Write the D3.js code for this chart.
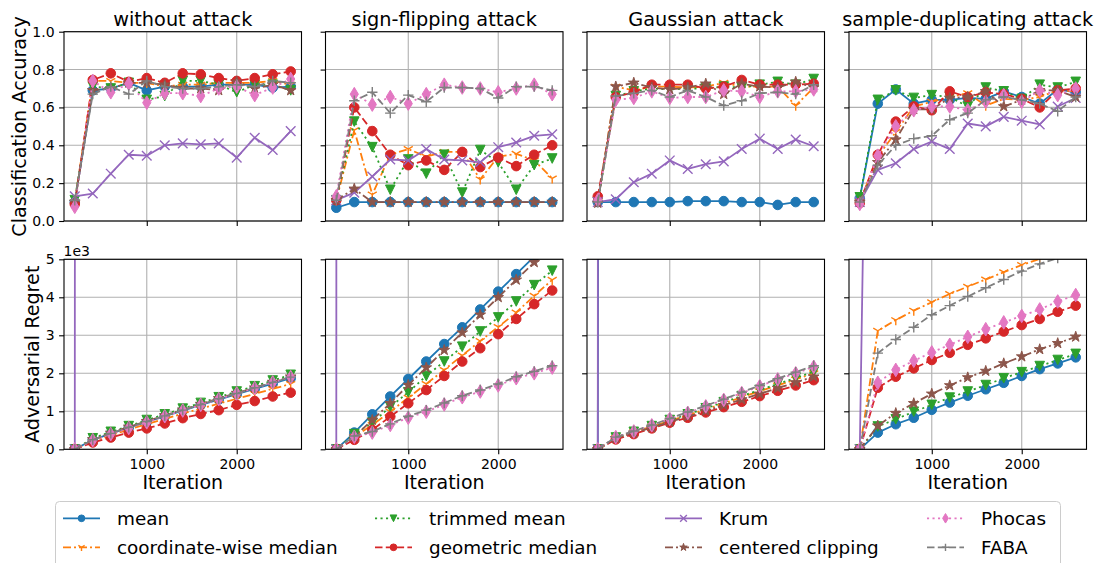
<!DOCTYPE html>
<html><head><meta charset="utf-8">
<script src="https://cdn.jsdelivr.net/npm/d3@7"></script>
<style>body{margin:0;background:#fff}svg{display:block}text{font-family:"DejaVu Sans",sans-serif;fill:#000}</style>
</head><body><svg id="chart" width="1097" height="563"></svg>
<script>
// ---------- data ----------
const iterations = [200, 400, 600, 800, 1000, 1200, 1400, 1600, 1800, 2000, 2200, 2400, 2600];
const methods = ["mean", "coordinate-wise median", "trimmed mean", "geometric median", "Krum", "centered clipping", "Phocas", "FABA"];
const attacks = ["without attack", "sign-flipping attack", "Gaussian attack", "sample-duplicating attack"];
const accTicks = [0, 0.2, 0.4, 0.6, 0.8, 1.0];
const regretTicks = [0, 1000, 2000, 3000, 4000, 5000];
const iterTicks = [1000, 2000];

// classification accuracy, one row per method (order of `methods`)
const accWithout = [
  [0.10, 0.69, 0.70, 0.73, 0.69, 0.71, 0.71, 0.71, 0.72, 0.72, 0.72, 0.705, 0.71],
  [0.10, 0.74, 0.74, 0.73, 0.73, 0.71, 0.72, 0.72, 0.73, 0.73, 0.73, 0.74, 0.72],
  [0.11, 0.71, 0.70, 0.73, 0.64, 0.66, 0.74, 0.74, 0.72, 0.68, 0.72, 0.72, 0.69],
  [0.09, 0.745, 0.78, 0.735, 0.755, 0.73, 0.78, 0.775, 0.755, 0.74, 0.755, 0.775, 0.79],
  [0.13, 0.145, 0.25, 0.35, 0.345, 0.40, 0.41, 0.405, 0.41, 0.335, 0.44, 0.375, 0.475],
  [0.10, 0.69, 0.70, 0.73, 0.73, 0.72, 0.70, 0.70, 0.69, 0.735, 0.70, 0.72, 0.69],
  [0.075, 0.74, 0.68, 0.725, 0.625, 0.675, 0.675, 0.66, 0.70, 0.71, 0.665, 0.705, 0.75],
  [0.11, 0.67, 0.71, 0.67, 0.74, 0.71, 0.70, 0.70, 0.71, 0.72, 0.71, 0.74, 0.73]
];
const accSignFlip = [
  [0.07, 0.10, 0.10, 0.10, 0.10, 0.10, 0.10, 0.10, 0.10, 0.10, 0.10, 0.10, 0.10],
  [0.11, 0.48, 0.14, 0.35, 0.38, 0.34, 0.365, 0.365, 0.22, 0.34, 0.355, 0.32, 0.225],
  [0.11, 0.525, 0.39, 0.165, 0.325, 0.25, 0.35, 0.15, 0.375, 0.31, 0.165, 0.295, 0.33],
  [0.11, 0.60, 0.475, 0.35, 0.295, 0.32, 0.27, 0.365, 0.285, 0.335, 0.29, 0.35, 0.40],
  [0.11, 0.15, 0.235, 0.325, 0.32, 0.38, 0.325, 0.32, 0.31, 0.39, 0.415, 0.45, 0.458],
  [0.11, 0.17, 0.10, 0.10, 0.10, 0.10, 0.10, 0.10, 0.10, 0.10, 0.10, 0.10, 0.10],
  [0.13, 0.67, 0.615, 0.655, 0.62, 0.67, 0.72, 0.705, 0.70, 0.68, 0.70, 0.72, 0.67],
  [0.11, 0.635, 0.68, 0.57, 0.665, 0.63, 0.705, 0.705, 0.70, 0.65, 0.71, 0.71, 0.69]
];
const accGaussian = [
  [0.10, 0.10, 0.10, 0.10, 0.10, 0.105, 0.105, 0.105, 0.10, 0.10, 0.085, 0.10, 0.10],
  [0.10, 0.71, 0.69, 0.71, 0.71, 0.705, 0.71, 0.73, 0.71, 0.71, 0.71, 0.61, 0.705],
  [0.10, 0.66, 0.685, 0.70, 0.695, 0.70, 0.70, 0.71, 0.705, 0.72, 0.735, 0.72, 0.75],
  [0.13, 0.655, 0.68, 0.72, 0.72, 0.72, 0.70, 0.71, 0.745, 0.72, 0.72, 0.72, 0.725],
  [0.10, 0.115, 0.205, 0.25, 0.32, 0.275, 0.30, 0.315, 0.38, 0.435, 0.38, 0.43, 0.395],
  [0.095, 0.71, 0.73, 0.705, 0.695, 0.705, 0.725, 0.67, 0.725, 0.71, 0.705, 0.735, 0.705],
  [0.11, 0.64, 0.65, 0.685, 0.65, 0.655, 0.655, 0.69, 0.685, 0.655, 0.685, 0.685, 0.695],
  [0.10, 0.66, 0.675, 0.69, 0.655, 0.69, 0.655, 0.61, 0.635, 0.675, 0.68, 0.67, 0.72]
];
const accSampleDup = [
  [0.12, 0.62, 0.695, 0.62, 0.64, 0.64, 0.65, 0.645, 0.685, 0.655, 0.62, 0.695, 0.68],
  [0.10, 0.34, 0.47, 0.605, 0.63, 0.655, 0.675, 0.61, 0.645, 0.64, 0.655, 0.69, 0.685],
  [0.125, 0.64, 0.69, 0.65, 0.665, 0.655, 0.605, 0.705, 0.685, 0.645, 0.72, 0.705, 0.735],
  [0.095, 0.35, 0.525, 0.605, 0.585, 0.685, 0.655, 0.68, 0.67, 0.645, 0.60, 0.69, 0.70],
  [0.10, 0.27, 0.305, 0.38, 0.42, 0.38, 0.515, 0.50, 0.55, 0.53, 0.51, 0.605, 0.65],
  [0.10, 0.31, 0.43, 0.59, 0.59, 0.65, 0.655, 0.685, 0.605, 0.64, 0.69, 0.69, 0.655],
  [0.09, 0.345, 0.50, 0.585, 0.605, 0.605, 0.585, 0.63, 0.665, 0.63, 0.69, 0.665, 0.70],
  [0.10, 0.295, 0.40, 0.435, 0.45, 0.535, 0.57, 0.64, 0.655, 0.64, 0.62, 0.58, 0.655]
];

// adversarial regret, one row per method
const regretWithout = [
  [0, 250, 410, 570, 720, 870, 1020, 1170, 1310, 1450, 1590, 1730, 1870],
  [0, 220, 370, 520, 660, 800, 940, 1070, 1200, 1330, 1460, 1590, 1720],
  [0, 290, 460, 610, 770, 920, 1070, 1220, 1370, 1520, 1660, 1810, 1960],
  [0, 180, 310, 440, 550, 680, 820, 930, 1030, 1170, 1270, 1390, 1490],
  [0, 1200000, 2300000, 3400000, 4500000, 5600000, 6700000, 7800000, 8900000, 9900000, 11000000, 12000000, 13000000],
  [0, 260, 430, 590, 740, 890, 1040, 1190, 1340, 1480, 1620, 1770, 1910],
  [0, 240, 400, 560, 710, 870, 1020, 1170, 1320, 1470, 1610, 1760, 1900],
  [0, 250, 420, 580, 730, 880, 1030, 1180, 1330, 1470, 1620, 1760, 1900]
];
const regretSignFlip = [
  [0, 440, 920, 1390, 1850, 2310, 2770, 3210, 3680, 4150, 4610, 5070, 5530],
  [0, 330, 640, 990, 1360, 1720, 2090, 2470, 2850, 3220, 3600, 4040, 4460],
  [0, 400, 700, 1120, 1500, 1930, 2310, 2700, 3100, 3470, 3890, 4320, 4700],
  [0, 250, 510, 860, 1210, 1560, 1930, 2310, 2660, 3030, 3430, 3820, 4180],
  [0, 1500000, 2900000, 4300000, 5700000, 7000000, 8400000, 9800000, 11000000, 12500000, 13900000, 15000000, 16500000],
  [0, 330, 770, 1210, 1690, 2150, 2610, 3070, 3540, 4000, 4460, 4920, 5380],
  [0, 330, 440, 640, 830, 990, 1180, 1370, 1520, 1680, 1870, 2000, 2150],
  [0, 350, 470, 670, 870, 1030, 1220, 1410, 1560, 1720, 1910, 2050, 2200]
];
const regretGaussian = [
  [0, 300000, 600000, 900000, 1200000, 1500000, 1800000, 2100000, 2400000, 2700000, 3000000, 3300000, 3600000],
  [0, 300, 450, 600, 750, 900, 1050, 1210, 1370, 1530, 1680, 1840, 2000],
  [0, 310, 460, 610, 770, 920, 1080, 1240, 1400, 1560, 1720, 1880, 2040],
  [0, 260, 400, 550, 700, 830, 970, 1110, 1250, 1400, 1540, 1680, 1820],
  [0, 1300000, 2500000, 3800000, 5000000, 6200000, 7400000, 8600000, 9800000, 11000000, 12000000, 13500000, 14600000],
  [0, 290, 430, 570, 720, 860, 1010, 1160, 1310, 1460, 1610, 1760, 1910],
  [0, 320, 470, 630, 800, 960, 1130, 1300, 1480, 1660, 1840, 2000, 2170],
  [0, 320, 480, 640, 810, 980, 1150, 1320, 1500, 1680, 1860, 2030, 2200]
];
const regretSampleDup = [
  [0, 440, 660, 830, 1040, 1230, 1410, 1580, 1750, 1930, 2110, 2260, 2420],
  [0, 3120, 3400, 3650, 3870, 4090, 4280, 4470, 4660, 4850, 5010, 5170, 5330],
  [0, 600, 790, 990, 1170, 1360, 1520, 1690, 1870, 2030, 2190, 2350, 2510],
  [0, 1620, 1910, 2130, 2350, 2540, 2750, 2920, 3100, 3270, 3430, 3620, 3780],
  [0, 30000, 58000, 85000, 110000, 140000, 165000, 190000, 220000, 245000, 270000, 300000, 325000],
  [0, 620, 950, 1210, 1460, 1680, 1890, 2060, 2260, 2440, 2630, 2790, 2960],
  [0, 1750, 2090, 2330, 2550, 2750, 2960, 3160, 3340, 3510, 3680, 3890, 4060],
  [0, 2530, 2890, 3210, 3540, 3780, 4020, 4250, 4470, 4690, 4880, 5030, 5200]
];

const accData = [accWithout, accSignFlip, accGaussian, accSampleDup];
const regretData = [regretWithout, regretSignFlip, regretGaussian, regretSampleDup];

// ---------- styles ----------
const colors = ["#1f77b4", "#ff7f0e", "#2ca02c", "#d62728", "#9467bd", "#8c564b", "#e377c2", "#7f7f7f"];
const markers = ["o", "1", "v", "o", "x", "*", "d", "+"];
const LW = 1.8;
const dashes = [null, [8, 3, 2, 3], [2.1, 3.4], [7.5, 3.3], null, [8, 3, 2, 3], [2.1, 3.4], [7.5, 3.3]];

function markerPath(type, k) {
  const s = 5.2 * k;
  switch (type) {
    case "o": { const r = 4.8 * k; return `M${r},0A${r},${r} 0 1,1 ${-r},0A${r},${r} 0 1,1 ${r},0Z`; }
    case "1": return `M0,0L0,${s}M0,0L${-0.866 * s},${-0.5 * s}M0,0L${0.866 * s},${-0.5 * s}`;
    case "v": { const t = 4.8 * k; return `M0,${t}L${-t},${-t}L${t},${-t}Z`; }
    case "x": { const t = 4.8 * k; return `M${-t},${-t}L${t},${t}M${-t},${t}L${t},${-t}`; }
    case "*": {
      const R = 5.6 * k, r = R * 0.382; let p = "";
      for (let i = 0; i < 10; i++) {
        const a = -Math.PI / 2 + i * Math.PI / 5, rr = i % 2 ? r : R;
        p += (i ? "L" : "M") + (rr * Math.cos(a)).toFixed(2) + "," + (rr * Math.sin(a)).toFixed(2);
      }
      return p + "Z";
    }
    case "d": { const h = 6.8 * k, w = 4.1 * k; return `M0,${-h}L${w},0L0,${h}L${-w},0Z`; }
    case "+": return `M${-s},0L${s},0M0,${-s}L0,${s}`;
  }
}
const filled = { "o": true, "v": true, "*": true, "d": true, "1": false, "x": false, "+": false };

function drawMarker(g, type, color, x, y, k) {
  const p = g.append("path").attr("d", markerPath(type, k)).attr("transform", `translate(${x},${y})`);
  if (filled[type]) p.attr("fill", color).attr("stroke", color).attr("stroke-width", 1);
  else p.attr("fill", "none").attr("stroke", color).attr("stroke-width", 1.4);
}

// ---------- layout ----------
const svg = d3.select("#chart");
const panelLeft = [64, 325.5, 587, 849];
const panelW = 237.5;
const rows = [{ top: 31.7, bottom: 221 }, { top: 259.3, bottom: 449.3 }];
const gridColor = "#b0b0b0";

attacks.forEach((att, c) => {
  [0, 1].forEach(r => {
    const L = panelLeft[c], R = L + panelW, T = rows[r].top, B = rows[r].bottom;
    const x = d3.scaleLinear().domain([80, 2720]).range([L, R]);
    const y = r === 0 ? d3.scaleLinear().domain([0, 1]).range([B, T])
                      : d3.scaleLinear().domain([0, 5000]).range([B, T]);
    const yTicks = r === 0 ? accTicks : regretTicks;
    const data = r === 0 ? accData[c] : regretData[c];
    const g = svg.append("g");
    const clipId = `clip-${r}-${c}`;
    svg.append("clipPath").attr("id", clipId).append("rect")
      .attr("x", L).attr("y", T).attr("width", R - L).attr("height", B - T);

    // grid
    iterTicks.forEach(t => g.append("line").attr("x1", x(t)).attr("x2", x(t)).attr("y1", T).attr("y2", B)
      .attr("stroke", gridColor).attr("stroke-width", 1.1));
    yTicks.forEach(t => g.append("line").attr("x1", L).attr("x2", R).attr("y1", y(t)).attr("y2", y(t))
      .attr("stroke", gridColor).attr("stroke-width", 1.1));

    // series
    const dg = g.append("g").attr("clip-path", `url(#${clipId})`);
    const line = d3.line().x((d, i) => x(iterations[i])).y(d => y(d));
    methods.forEach((m, si) => {
      const vals = data[si];
      const pth = dg.append("path").datum(vals).attr("d", line).attr("fill", "none")
        .attr("stroke", colors[si]).attr("stroke-width", LW).attr("stroke-linejoin", "round");
      if (dashes[si]) pth.attr("stroke-dasharray", dashes[si].join(","));
      vals.forEach((v, i) => {
        const py = y(v);
        if (py < T - 20) return;
        drawMarker(dg, markers[si], colors[si], x(iterations[i]), py, 1);
      });
    });

    // spines
    g.append("rect").attr("x", L).attr("y", T).attr("width", R - L).attr("height", B - T)
      .attr("fill", "none").attr("stroke", "#000").attr("stroke-width", 1.1);

    // x axis
    const xAxis = d3.axisBottom(x).tickValues(iterTicks).tickSize(4.9).tickPadding(4.5)
      .tickFormat(r === 1 ? d3.format("d") : () => "");
    const xg = g.append("g").attr("transform", `translate(0,${B})`).call(xAxis);
    xg.select(".domain").remove();
    xg.selectAll("line").attr("stroke", "#000").attr("stroke-width", 1.1);
    xg.selectAll("text").attr("font-size", 14).attr("font-family", "DejaVu Sans").attr("fill", "#000");

    // y axis
    const yAxis = d3.axisLeft(y).tickValues(yTicks).tickSize(4.9).tickPadding(4.5)
      .tickFormat(c === 0 ? (r === 0 ? d3.format(".1f") : (d => d3.format("d")(d / 1000))) : () => "");
    const yg = g.append("g").attr("transform", `translate(${L},0)`).call(yAxis);
    yg.select(".domain").remove();
    yg.selectAll("line").attr("stroke", "#000").attr("stroke-width", 1.1);
    yg.selectAll("text").attr("font-size", 14).attr("font-family", "DejaVu Sans").attr("fill", "#000");

    if (r === 0) {
      g.append("text").attr("x", (L + R) / 2).attr("y", 25.5).attr("text-anchor", "middle")
        .attr("font-size", 19.3).text(att);
    } else {
      g.append("text").attr("x", (L + R) / 2).attr("y", 489).attr("text-anchor", "middle")
        .attr("font-size", 19).text("Iteration");
    }
    if (c === 0 && r === 1) {
      g.append("text").attr("x", L - 0.5).attr("y", 255.5).attr("font-size", 14).text("1e3");
    }
  });
});

// y labels
svg.append("text").attr("transform", `translate(25.5,${(rows[0].top + rows[0].bottom) / 2}) rotate(-90)`)
  .attr("text-anchor", "middle").attr("font-size", 19.2).text("Classification Accuracy");
svg.append("text").attr("transform", `translate(39,${(rows[1].top + rows[1].bottom) / 2}) rotate(-90)`)
  .attr("text-anchor", "middle").attr("font-size", 19.2).text("Adversarial Regret");

// ---------- legend ----------
const lg = svg.append("g");
lg.append("rect").attr("x", 55.5).attr("y", 501.5).attr("width", 1005).attr("height", 80).attr("rx", 4)
  .attr("fill", "#fff").attr("fill-opacity", 0.8).attr("stroke", "#cccccc").attr("stroke-width", 1);
const colX = [63, 375, 665, 927];
const rowY = [518.3, 547.3];
methods.forEach((m, si) => {
  const col = Math.floor(si / 2), row = si % 2;
  const x0 = colX[col], yy = rowY[row];
  const ln = lg.append("line").attr("x1", x0).attr("x2", x0 + 37).attr("y1", yy).attr("y2", yy)
    .attr("stroke", colors[si]).attr("stroke-width", LW);
  if (dashes[si]) ln.attr("stroke-dasharray", dashes[si].join(","));
  drawMarker(lg, markers[si], colors[si], x0 + 18.5, yy, 0.7);
  lg.append("text").attr("x", x0 + 54).attr("y", yy + 6.5).attr("font-size", 18.4).text(m);
});
</script></body></html>
